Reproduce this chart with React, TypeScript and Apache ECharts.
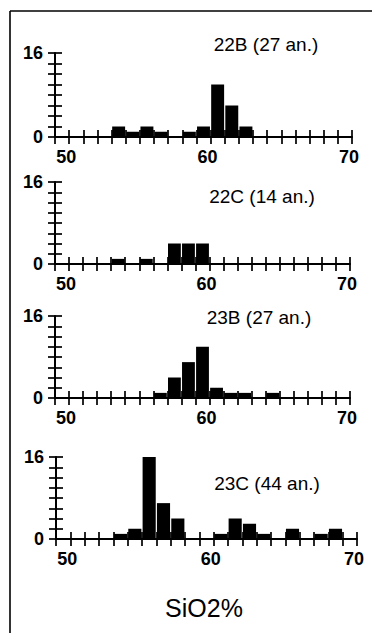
import React, { useEffect, useRef } from "react";
import * as echarts from "echarts";

// Histogram bins (lower edge of each 1% SiO2 bin)
const binStarts = [49, 50, 51, 52, 53, 54, 55, 56, 57, 58, 59, 60, 61, 62, 63, 64, 65, 66, 67, 68, 69];
const binWidth = 1;

// Counts per bin (number of analyses)
const counts22B = [0, 0, 0, 0, 2, 1, 2, 1, 0, 1, 2, 10, 6, 2, 0, 0, 0, 0, 0, 0, 0];
const counts22C = [0, 0, 0, 0, 1, 0, 1, 0, 4, 4, 4, 0, 0, 0, 0, 0, 0, 0, 0, 0, 0];
const counts23B = [0, 0, 0, 0, 0, 0, 0, 1, 4, 7, 10, 2, 1, 1, 0, 1, 0, 0, 0, 0, 0];
const counts23C = [0, 0, 0, 0, 1, 2, 16, 7, 4, 0, 0, 1, 4, 3, 1, 0, 2, 0, 1, 2, 0];

const panelTitles = ["22B (27 an.)", "22C (14 an.)", "23B (27 an.)", "23C (44 an.)"];
const xTickLabels = [50, 60, 70];
const yTickLabels = [0, 16];
const axisTitle = "SiO2%";

const panelCounts = [counts22B, counts22C, counts23B, counts23C];

// layout (pixels)
const grids = [
  { left: 55, top: 53, width: 297, height: 84 },
  { left: 55, top: 182, width: 295, height: 82 },
  { left: 55, top: 316, width: 295, height: 82 },
  { left: 56, top: 457, width: 301, height: 82 },
];
const titlePos = [
  [266, 44],
  [262, 196],
  [259, 317],
  [267, 483],
];

const FONT = "'Liberation Sans', Arial, Helvetica, sans-serif";

export default function App() {
  const ref = useRef<HTMLDivElement>(null);
  useEffect(() => {
    if (!ref.current) return;
    const chart = echarts.init(ref.current, null, { renderer: "svg" });

    const xAxes: any[] = [];
    const yAxes: any[] = [];
    const series: any[] = [];
    const tickStyle = { color: "#000", width: 1.7 };

    grids.forEach((g, i) => {
      const xBase = {
        type: "value",
        gridIndex: i,
        min: 49,
        max: 70,
        interval: 1,
        position: "bottom",
        splitLine: { show: false },
      };
      xAxes.push({
        ...xBase,
        axisLine: { show: true, onZero: false, lineStyle: { color: "#000", width: 2 } },
        axisTick: { show: true, length: 7, lineStyle: tickStyle },
        axisLabel: {
          show: true,
          margin: 11,
          color: "#000",
          fontSize: 18,
          fontWeight: "bold",
          fontFamily: FONT,
          padding: [0, 6, 0, 0],
          formatter: (v: number) => (xTickLabels.indexOf(v) >= 0 ? String(v) : ""),
        },
      });
      xAxes.push({
        ...xBase,
        axisLine: { show: false, onZero: false },
        axisTick: { show: true, inside: true, length: 7, lineStyle: tickStyle },
        axisLabel: { show: false },
      });
      const yBase = {
        type: "value",
        gridIndex: i,
        min: 0,
        max: 16,
        interval: 2,
        position: "left",
        splitLine: { show: false },
      };
      yAxes.push({
        ...yBase,
        axisLine: { show: true, onZero: false, lineStyle: { color: "#000", width: 2 } },
        axisTick: { show: true, length: 7, lineStyle: tickStyle },
        axisLabel: {
          show: true,
          margin: 12,
          color: "#000",
          fontSize: 18,
          fontWeight: "bold",
          fontFamily: FONT,
          formatter: (v: number) => (yTickLabels.indexOf(v) >= 0 ? String(v) : ""),
        },
      });
      yAxes.push({
        ...yBase,
        axisLine: { show: false, onZero: false },
        axisTick: { show: true, inside: true, length: 7, lineStyle: tickStyle },
        axisLabel: { show: false },
      });

      const data = binStarts
        .map((b, k) => [b, panelCounts[i][k]])
        .filter((d) => d[1] > 0);

      series.push({
        type: "custom",
        xAxisIndex: i * 2,
        yAxisIndex: i * 2,
        encode: { x: 0, y: 1 },
        data,
        z: 5,
        renderItem: (_params: any, api: any) => {
          const x0 = api.value(0);
          const c = api.value(1);
          const p0 = api.coord([x0, c]);
          const p1 = api.coord([x0 + binWidth, 0]);
          return {
            type: "rect",
            shape: {
              x: p0[0] + 0.6,
              y: p0[1],
              width: p1[0] - p0[0] - 1.2,
              height: p1[1] - p0[1],
            },
            style: { fill: "#000" },
          };
        },
      });
    });

    const graphics: any[] = [
      { type: "line", shape: { x1: 10, y1: 11, x2: 372, y2: 11 }, style: { stroke: "#000", lineWidth: 1.6 } },
      { type: "line", shape: { x1: 10, y1: 11, x2: 10, y2: 633 }, style: { stroke: "#000", lineWidth: 1.6 } },
      {
        type: "text",
        x: 204,
        y: 608,
        style: {
          text: axisTitle,
          fill: "#000",
          font: `25px ${FONT}`,
          align: "center",
          verticalAlign: "middle",
        },
      },
    ];
    panelTitles.forEach((t, i) => {
      graphics.push({
        type: "text",
        x: titlePos[i][0],
        y: titlePos[i][1],
        style: {
          text: t,
          fill: "#000",
          font: `19px ${FONT}`,
          align: "center",
          verticalAlign: "middle",
        },
      });
    });

    chart.setOption({
      animation: false,
      backgroundColor: "#fff",
      grid: grids.map((g) => ({ ...g, containLabel: false })),
      xAxis: xAxes,
      yAxis: yAxes,
      series,
      graphic: graphics,
    });
    return () => chart.dispose();
  }, []);
  return (
    <div
      ref={ref}
      style={{ position: "fixed", left: 0, top: 0, width: 372, height: 633, background: "#fff" }}
    />
  );
}
